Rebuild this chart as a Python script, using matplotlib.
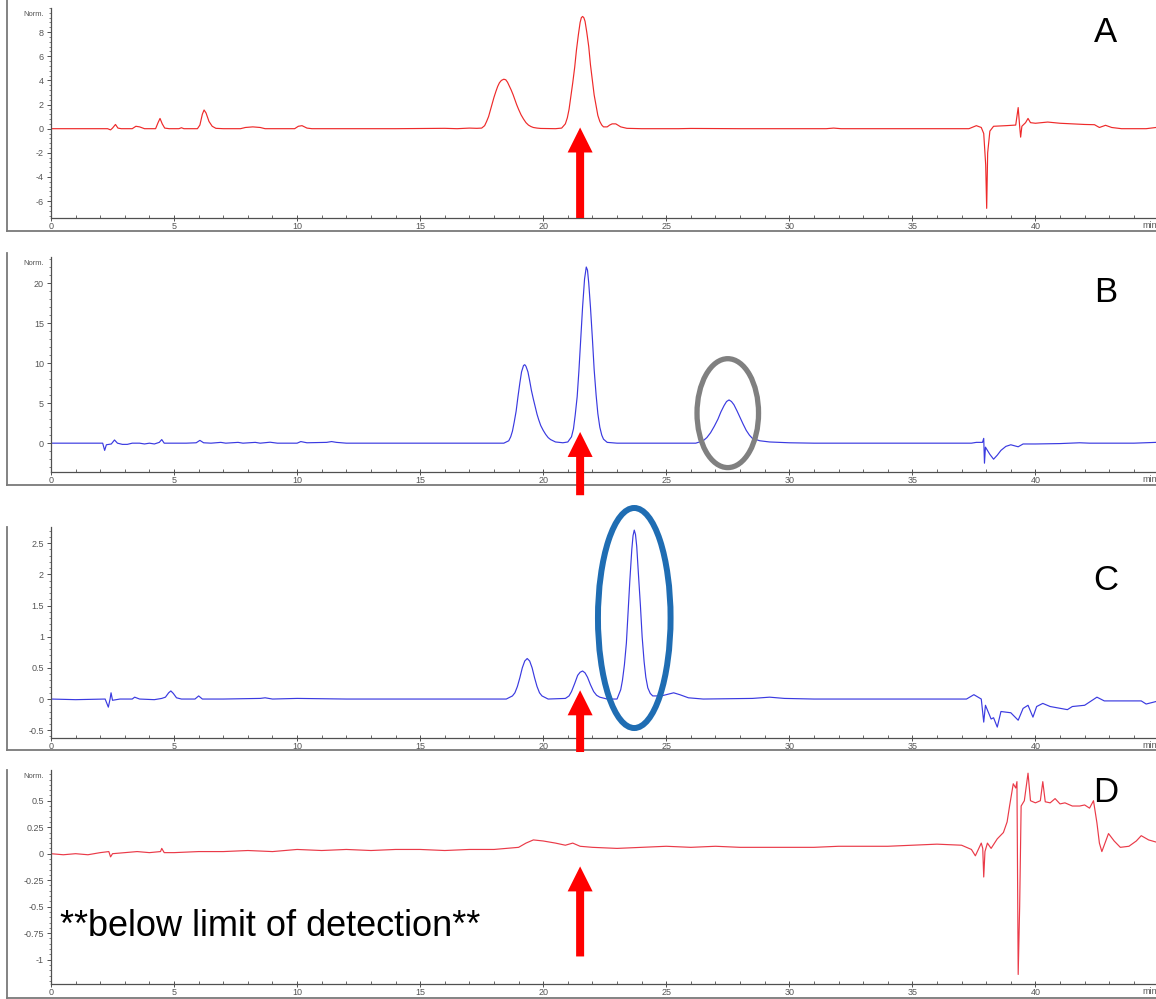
import matplotlib
matplotlib.use("Agg")
import matplotlib.pyplot as plt
from matplotlib.patches import Ellipse
from matplotlib.ticker import MultipleLocator, AutoMinorLocator, FormatStrFormatter

plt.rcParams['font.family'] = ['Liberation Sans', 'DejaVu Sans']
plt.rcParams['axes.unicode_minus'] = False

# ---- chromatogram traces (time in min, normalised signal) ----
a_time = [0.0, 2.3, 2.42, 2.5, 2.62, 2.72, 2.85, 3.3, 3.45, 3.6, 3.8, 4.25, 4.35, 4.43, 4.52, 4.62,
          4.8, 5.2, 5.3, 5.4, 5.95, 6.05, 6.15, 6.22, 6.3, 6.42, 6.55, 6.7, 7.0, 7.7, 7.9, 8.2,
          8.5, 8.7, 9.9, 10.05, 10.2, 10.4, 10.6, 12.0, 14.0, 16.0, 16.5, 17.0, 17.3, 17.5, 17.62,
          17.7, 17.78, 17.85, 17.92, 18.0, 18.08, 18.15, 18.22, 18.3, 18.4, 18.48, 18.55, 18.62,
          18.7, 18.78, 18.85, 18.92, 19.0, 19.1, 19.2, 19.3, 19.4, 19.5, 19.6, 19.75, 19.9, 20.5,
          20.75, 20.9, 20.98, 21.05, 21.12, 21.2, 21.28, 21.35, 21.43, 21.5, 21.55, 21.6, 21.65,
          21.7, 21.77, 21.85, 21.92, 22.0, 22.07, 22.15, 22.22, 22.3, 22.38, 22.45, 22.6,
          22.7, 22.8, 22.95, 23.05, 23.15, 23.4, 24.0, 25.5, 26.0, 28.0, 30.0, 31.5, 31.8, 32.1,
          36.0, 37.3, 37.6, 37.8, 37.9, 37.98, 38.02, 38.06, 38.1, 38.15, 38.3, 38.8, 39.2, 39.3,
          39.36, 39.4, 39.45, 39.6, 39.7, 39.8, 40.0, 40.5, 41.0, 41.5, 42.0, 42.4, 42.6, 42.85,
          43.1, 43.5, 44.5, 44.9]
a_signal = [0, 0, -0.1, 0.05, 0.35, 0.05, 0, 0, 0.2, 0.15, 0, 0, 0.5, 0.85, 0.4, 0.05,
            0, 0, 0.08, 0, 0, 0.3, 1.2, 1.55, 1.3, 0.6, 0.2, 0.03, 0, 0, 0.1, 0.15,
            0.1, 0, 0, 0.2, 0.25, 0.05, 0, 0, 0, 0.03, 0, 0.05, 0.03, 0.05, 0.25,
            0.6, 1.0, 1.5, 2.0, 2.6, 3.1, 3.5, 3.8, 4.0, 4.1, 4.05, 3.85, 3.55,
            3.2, 2.8, 2.4, 2.0, 1.6, 1.15, 0.8, 0.5, 0.3, 0.18, 0.1, 0.05, 0.02, 0,
            0.05, 0.4, 0.9, 1.6, 2.6, 3.8, 5.1, 6.5, 7.8, 8.8, 9.2, 9.3, 9.2,
            8.9, 8.0, 6.8, 5.3, 4.0, 2.8, 1.9, 1.1, 0.6, 0.3, 0.15, 0.15,
            0.3, 0.4, 0.4, 0.28, 0.15, 0.03, 0, 0, 0.02, 0, 0, 0, 0.05, 0,
            0, 0, 0.25, 0.1, -0.4, -3.0, -6.6, -2.0, -1.2, -0.2, 0.2, 0.25, 0.3, 1.75,
            0.2, -0.7, 0.2, 0.5, 0.85, 0.5, 0.45, 0.55, 0.45, 0.4, 0.35, 0.33, 0.1, 0.28,
            0.1, 0, 0, 0.1]

b_time = [0.0, 2.1, 2.18, 2.25, 2.45, 2.58, 2.7, 2.9, 3.1, 3.3, 3.6, 3.8, 4.0, 4.2, 4.4, 4.5,
          4.6, 5.5, 5.9, 6.05, 6.2, 6.5, 6.9, 7.1, 7.6, 7.8, 8.3, 8.5, 8.9, 9.2, 10.0, 10.15,
          10.4, 11.2, 11.4, 11.6, 12.0, 16.0, 18.4, 18.6, 18.68, 18.75, 18.82, 18.9, 18.97, 19.05,
          19.12, 19.2, 19.25, 19.3, 19.38, 19.45, 19.52, 19.6, 19.68, 19.75, 19.82, 19.9, 20.0,
          20.1, 20.2, 20.3, 20.5, 20.8, 21.0, 21.15, 21.23, 21.3, 21.38, 21.45, 21.52, 21.6,
          21.68, 21.75, 21.8, 21.85, 21.92, 22.0, 22.07, 22.15, 22.22, 22.3, 22.38, 22.45, 22.6,
          23.0, 26.2, 26.5, 26.65, 26.8, 26.95, 27.1, 27.22, 27.35, 27.45, 27.55, 27.65, 27.75,
          27.88, 28.0, 28.12, 28.25, 28.38, 28.5, 28.8, 29.2, 30.0, 31.0, 37.4, 37.6, 37.85,
          37.9, 37.93, 37.97, 38.05, 38.15, 38.3, 38.45, 38.6, 38.8, 39.0, 39.3, 39.5, 40.0,
          41.0, 41.8, 42.2, 43.0, 44.0, 44.9]
b_signal = [0, 0, -0.9, -0.2, -0.1, 0.4, 0, -0.15, -0.15, 0, 0, -0.1, 0, -0.1, 0.1, 0.45,
            0, 0, 0.05, 0.35, 0.05, 0, 0.1, 0, 0.1, 0, 0.1, 0, 0.12, 0, 0, 0.2,
            0.05, 0.1, 0.2, 0.1, 0, 0, 0, 0.3, 0.8, 1.5, 2.6, 4.0, 5.7, 7.5,
            8.9, 9.7, 9.8, 9.6, 8.9, 7.8, 6.6, 5.5, 4.5, 3.6, 2.9, 2.2, 1.6,
            1.1, 0.7, 0.45, 0.15, 0.05, 0.15, 0.8, 1.8, 3.5, 5.8, 9.0, 12.8, 17.0,
            20.5, 22.0, 21.6, 20.0, 17.0, 13.0, 9.2, 6.0, 3.7, 2.0, 1.0, 0.5, 0.1,
            0, 0, 0.3, 0.7, 1.3, 2.1, 3.0, 3.9, 4.7, 5.2, 5.4, 5.2, 4.8,
            4.0, 3.2, 2.4, 1.6, 1.0, 0.6, 0.3, 0.15, 0.05, 0, 0, 0.1, 0.1,
            0.6, -2.5, -0.5, -0.9, -1.4, -2.0, -1.5, -0.9, -0.4, -0.2, -0.45, -0.1, -0.1,
            -0.05, 0.05, 0, 0, 0, 0.1]

c_time = [0.0, 1.0, 2.2, 2.33, 2.4, 2.44, 2.5, 2.8, 3.3, 3.4, 3.6, 4.2, 4.5, 4.65, 4.78, 4.87,
          4.97, 5.1, 5.3, 5.85, 6.0, 6.15, 7.0, 8.5, 8.7, 9.0, 10.0, 12.0, 18.5, 18.75, 18.85,
          18.95, 19.05, 19.15, 19.25, 19.35, 19.45, 19.55, 19.65, 19.75, 19.85, 19.95, 20.2, 20.9,
          21.05, 21.15, 21.28, 21.4, 21.5, 21.6, 21.7, 21.8, 21.92, 22.05, 22.17, 22.3, 22.6,
          23.0, 23.15, 23.22, 23.3, 23.38, 23.45, 23.52, 23.6, 23.65, 23.7, 23.75, 23.8, 23.87,
          23.95, 24.02, 24.1, 24.17, 24.25, 24.35, 24.45, 24.8, 25.1, 25.3, 25.55, 25.9, 26.5,
          28.5, 29.2, 29.8, 31.0, 37.2, 37.5, 37.8, 37.9, 37.97, 38.2, 38.3, 38.45, 38.6, 39.0,
          39.3, 39.5, 39.7, 39.9, 40.05, 40.3, 40.6, 41.3, 41.5, 42.0, 42.5, 42.8, 43.5, 44.3,
          44.5, 44.9]
c_signal = [0, -0.01, 0, -0.13, 0.0, 0.1, -0.02, 0, 0, 0.03, 0, -0.01, 0.01, 0.03, 0.1, 0.13,
            0.09, 0.02, 0, 0, 0.05, 0, 0, 0.01, 0.02, 0, 0.01, 0, 0, 0.05, 0.1,
            0.2, 0.34, 0.5, 0.61, 0.65, 0.61, 0.5, 0.34, 0.2, 0.1, 0.05, 0, 0.01,
            0.05, 0.12, 0.25, 0.38, 0.43, 0.45, 0.42, 0.35, 0.23, 0.12, 0.06, 0.03, 0.0,
            0.0, 0.15, 0.3, 0.55, 0.9, 1.4, 1.9, 2.4, 2.62, 2.71, 2.64, 2.45, 2.0,
            1.5, 1.0, 0.6, 0.35, 0.18, 0.09, 0.05, 0.05, 0.08, 0.1, 0.07, 0.02, 0,
            0.01, 0.03, 0.01, 0, 0.0, 0.07, 0.0, -0.37, -0.1, -0.32, -0.3, -0.45, -0.2, -0.22,
            -0.34, -0.15, -0.1, -0.29, -0.12, -0.07, -0.12, -0.17, -0.12, -0.1, 0.03, -0.03, -0.03, -0.03,
            -0.08, -0.04]

d_time = [0.0, 0.5, 1.0, 1.5, 2.0, 2.35, 2.42, 2.5, 3.0, 3.5, 4.0, 4.45, 4.5, 4.6, 5.0, 6.0,
          7.0, 8.0, 9.0, 10.0, 11.0, 12.0, 13.0, 14.0, 15.0, 16.0, 17.0, 18.0, 19.0, 19.3, 19.6,
          20.0, 20.5, 20.9, 21.2, 21.5, 22.0, 23.0, 24.0, 25.0, 26.0, 27.0, 28.0, 29.0, 30.0,
          31.0, 32.0, 33.0, 34.0, 35.0, 36.0, 37.0, 37.4, 37.56, 37.7, 37.8, 37.86, 37.9, 37.95,
          38.05, 38.2, 38.45, 38.7, 38.85, 38.95, 39.1, 39.2, 39.25, 39.3, 39.36, 39.42, 39.55,
          39.7, 39.8, 40.0, 40.2, 40.3, 40.4, 40.6, 40.8, 41.0, 41.2, 41.5, 41.8, 42.0, 42.2,
          42.36, 42.5, 42.6, 42.7, 42.97, 43.2, 43.45, 43.8, 44.1, 44.3, 44.6, 44.9]
d_signal = [0.0, -0.01, 0.0, -0.01, 0.01, 0.02, -0.03, 0.0, 0.01, 0.02, 0.01, 0.02, 0.05, 0.01, 0.01, 0.02,
            0.02, 0.03, 0.02, 0.04, 0.03, 0.04, 0.03, 0.04, 0.04, 0.03, 0.04, 0.04, 0.06, 0.1, 0.13,
            0.12, 0.1, 0.08, 0.1, 0.07, 0.06, 0.05, 0.06, 0.07, 0.06, 0.07, 0.06, 0.06, 0.06,
            0.06, 0.07, 0.07, 0.07, 0.08, 0.09, 0.08, 0.04, -0.02, 0.05, 0.1, 0.05, -0.22, 0.02,
            0.1, 0.05, 0.14, 0.2, 0.3, 0.45, 0.66, 0.62, 0.68, -1.14, -0.5, 0.45, 0.5,
            0.76, 0.5, 0.48, 0.5, 0.68, 0.49, 0.48, 0.52, 0.47, 0.48, 0.45, 0.45, 0.46, 0.43,
            0.5, 0.29, 0.1, 0.02, 0.19, 0.12, 0.06, 0.07, 0.12, 0.17, 0.13, 0.11]

panel_labels = ['A', 'B', 'C', 'D']
y_limits = [(-7.4, 10.0), (-3.6, 23.25), (-0.625, 2.76), (-1.23, 0.79)]
y_ticks = [[-6, -4, -2, 0, 2, 4, 6, 8],
           [0, 5, 10, 15, 20],
           [-0.5, 0, 0.5, 1, 1.5, 2, 2.5],
           [-1, -0.75, -0.5, -0.25, 0, 0.25, 0.5]]
trace_colors = ['#ee2a2a', '#3a3ae0', '#3a3ae0', '#ea3a48']
arrow_tip = [0.1, 1.4, 0.14, -0.12]
arrow_base = [-7.4, -6.5, -0.85, -0.97]
arrow_time = 21.5

W, H = 1156, 999
fig = plt.figure(figsize=(W / 100, H / 100), dpi=100)


def px_axes(left, top, right, bottom, **kw):
    return fig.add_axes([left / W, 1 - bottom / H, (right - left) / W, (bottom - top) / H], **kw)


# pixel boxes: (frame_top, frame_bottom, axis_top, axis_bottom), letter centre y
boxes = [(0, 231, 8, 218), (253, 485, 257, 472), (527, 750, 527, 738), (770, 998, 770, 984)]
letter_y = [32, 292, 580, 793]
traces = [(a_time, a_signal), (b_time, b_signal), (c_time, c_signal), (d_time, d_signal)]

axes = []
for i, (ft, fb, at, ab) in enumerate(boxes):
    # outer frame of the exported chromatogram
    fr = px_axes(7, ft, W + 2, fb)
    fr.set_facecolor('none')
    fr.set_xticks([])
    fr.set_yticks([])
    for s in ['top', 'right']:
        fr.spines[s].set_visible(False)
    for s in ['left', 'bottom']:
        fr.spines[s].set_color('#7a7a7a')
        fr.spines[s].set_linewidth(1.3)

    ax = px_axes(51, at, W, ab)
    ax.set_facecolor('none')
    t, v = traces[i]
    ax.plot(t, v, color=trace_colors[i], lw=0.85)
    ax.set_xlim(0, 44.9)
    ax.set_ylim(*y_limits[i])
    for s in ['top', 'right']:
        ax.spines[s].set_visible(False)
    for s in ['left', 'bottom']:
        ax.spines[s].set_color('#505050')
        ax.spines[s].set_linewidth(0.9)
    ax.set_xticks(range(0, 41, 5))
    ax.xaxis.set_minor_locator(MultipleLocator(1))
    ax.set_yticks(y_ticks[i])
    ax.yaxis.set_minor_locator(AutoMinorLocator(5))
    ax.yaxis.set_major_formatter(FormatStrFormatter('%g'))
    ax.xaxis.set_major_formatter(FormatStrFormatter('%g'))
    ax.tick_params(axis='x', which='major', direction='inout', length=4, width=0.7,
                   colors='#505050', labelsize=6.5, pad=1, labelcolor='#555555')
    ax.tick_params(axis='x', which='minor', direction='in', length=2.5, width=0.6, colors='#505050')
    ax.tick_params(axis='y', which='major', direction='out', length=3, width=0.7,
                   colors='#505050', labelsize=6.5, pad=2, labelcolor='#555555')
    ax.tick_params(axis='y', which='minor', direction='out', length=1.5, width=0.5, colors='#505050')
    ax.annotate('min', xy=(44.65, 0), xycoords=('data', 'axes fraction'), xytext=(0, -2.2),
                textcoords='offset points', ha='center', va='top', fontsize=6.5,
                color='#555555', annotation_clip=False)
    if i != 2:
        ax.text(-0.006, 0.985, 'Norm.', transform=ax.transAxes, ha='right', va='top',
                fontsize=5.5, color='#555555')

    # red arrow marking the analyte retention time
    ax.annotate('', xy=(arrow_time, arrow_tip[i]), xytext=(arrow_time, arrow_base[i]),
                arrowprops=dict(arrowstyle='simple,head_length=1.0,head_width=1.0,tail_width=0.32',
                                mutation_scale=18, color='#ff0000', shrinkA=0, shrinkB=0, lw=0),
                annotation_clip=False)

    fig.text(1106 / W, 1 - letter_y[i] / H, panel_labels[i], ha='center', va='center',
             fontsize=25, color='black')
    axes.append(ax)

# highlight ellipses
axes[1].add_patch(Ellipse((27.5, 3.75), 2.5, 13.6, fill=False, edgecolor='#808080',
                          lw=3.8, clip_on=False, zorder=5))
axes[2].add_patch(Ellipse((23.7, 1.30), 2.95, 3.53, fill=False, edgecolor='#1f6db3',
                          lw=4.3, clip_on=False, zorder=5))

fig.text(60 / W, 1 - 936 / H, '**below limit of detection**', ha='left', va='baseline',
         fontsize=26, color='black')

fig.savefig('out.png', dpi=100)
